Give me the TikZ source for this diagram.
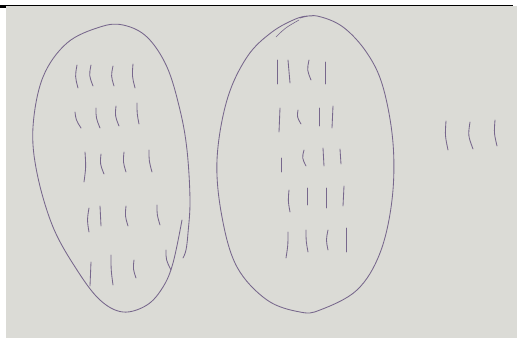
\documentclass[tikz,border=0pt]{standalone}
\begin{document}
\begin{tikzpicture}[x=1pt,y=-1pt,
  pen/.style={draw=penc,line width=0.85pt,line cap=round,line join=round}]
\definecolor{penc}{HTML}{77678C}
\definecolor{paper}{HTML}{DBDBD6}
\useasboundingbox (0,0) rectangle (517,338);
\fill[white] (0,0) rectangle (517,338);
\fill[paper] (6,6) rectangle (517,338);
\draw[black,line width=1.6pt] (0,5.5) -- (513,5.5);
\fill[black] (0,5) rectangle (6,8);
% left oval
\draw[pen] plot[smooth,tension=0.6] coordinates {(183,258) (186,250) (188,233) (190,200) (187,150) (180,110) (167,67) (147,37) (123,25) (100,27) (67,43) (43,77) (33,127) (37,173) (53,227) (77,270) (100,300) (123,312) (147,305) (163,287) (173,263) (182,220)};
% middle oval
\draw[pen] plot[smooth,tension=0.6] coordinates {(300,18) (317,16) (343,27) (367,53) (383,87) (393,143) (392,200) (380,253) (357,290) (320,310) (300,312) (267,300) (237,267) (222,217) (217,160) (227,100) (247,57) (272,32) (298,18) (312,16)};
\draw[pen,line width=0.6pt] (276,37) .. controls (285,28) .. (299,20);
% tally marks: \tl{x}{ytop}{ybottom}{dx bottom}{bend}
\newcommand{\tl}[5]{\draw[pen] (#1,#2) .. controls ({#1+#5},{(#2+#3)/2}) .. ({#1+#4},#3);}
% left oval rows
\tl{77}{65}{88}{1}{-2}
\tl{91}{65}{86}{2}{-2}
\tl{113}{66}{86}{1}{-2}
\tl{133}{64}{88}{2}{-1}
\tl{75}{112}{128}{6}{1}
\tl{96}{108}{128}{4}{0}
\tl{116}{106}{126}{3}{-1}
\tl{137}{103}{124}{2}{0}
\tl{85}{152}{182}{-1}{1}
\tl{101}{154}{174}{3}{-1}
\tl{124}{152}{172}{2}{-1}
\tl{149}{150}{172}{3}{0}
\tl{89}{208}{232}{0}{-2}
\tl{100}{206}{226}{1}{0}
\tl{126}{206}{226}{2}{-1}
\tl{157}{205}{225}{3}{0}
\tl{91}{262}{286}{-1}{0}
\tl{111}{255}{285}{2}{0}
\tl{134}{260}{278}{2}{-1}
\tl{166}{250}{270}{5}{0}
% middle oval rows
\tl{277}{60}{84}{0}{0}
\tl{288}{60}{83}{2}{1}
\tl{309}{60}{80}{2}{-2}
\tl{325}{62}{84}{0}{0}
\tl{280}{108}{132}{-1}{-1}
\tl{298}{110}{124}{3}{-1}
\tl{319}{108}{126}{0}{0}
\tl{333}{106}{128}{-1}{0}
\tl{281}{158}{172}{0}{0}
\tl{304}{150}{166}{2}{-2}
\tl{323}{148}{166}{1}{0}
\tl{340}{149}{164}{1}{0}
\tl{289}{190}{212}{1}{-1}
\tl{307}{188}{205}{0}{0}
\tl{326}{188}{208}{0}{0}
\tl{344}{186}{206}{-1}{0}
\tl{288}{232}{258}{-2}{0}
\tl{306}{230}{252}{2}{0}
\tl{328}{230}{250}{0}{-2}
\tl{346}{228}{252}{0}{0}
% right marks
\tl{446}{121}{150}{2}{-1}
\tl{470}{122}{149}{3}{-2}
\tl{495}{120}{146}{2}{-1}
\end{tikzpicture}
\end{document}
